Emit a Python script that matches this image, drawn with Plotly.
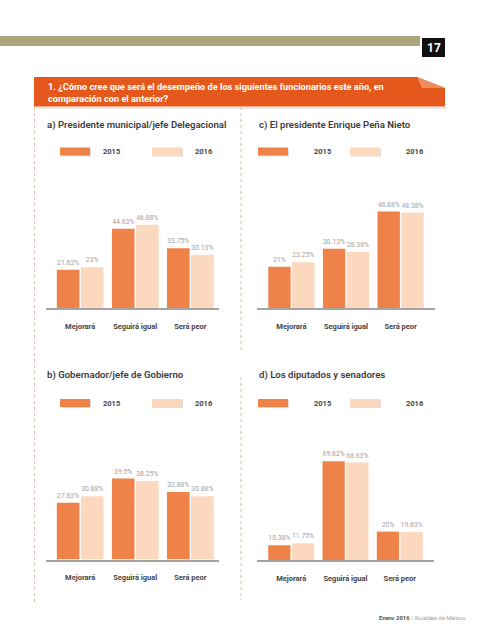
import plotly.graph_objects as go

W, H = 492, 640

categories = ["Mejorará", "Seguirá igual", "Será peor"]
years = ["2015", "2016"]

a_2015 = [21.63, 44.63, 33.75]
a_2016 = [23, 46.88, 30.13]
c_2015 = [21, 30.13, 48.88]
c_2016 = [23.25, 28.38, 48.38]
b_2015 = [27.63, 39.5, 32.88]
b_2016 = [30.88, 38.25, 30.88]
d_2015 = [10.38, 69.63, 20]
d_2016 = [11.75, 68.63, 19.63]

panel_titles = [
    "a) Presidente municipal/jefe Delegacional",
    "c) El presidente Enrique Peña Nieto",
    "b) Gobernador/jefe de Gobierno",
    "d) Los diputados y senadores",
]
question = ("1. ¿Cómo cree que será el desempeño de los siguientes funcionarios este año, en"
            "<br>comparación con el anterior?")
page_number = "17"
footer_bold = "Enero 2016"
footer_rest = " | Alcaldes de México"

C15 = "#ee8248"
C16 = "#fcd8bf"
TXT = "#444444"
VAL = "#a2a2a2"
FONT = "Roboto"


def px(x):
    return x / W


def py(y):
    return 1 - y / H


fig = go.Figure()

# panel geometry: (values 2015, values 2016, x0, x1, ybottom, pxPerUnit, xrange)
panels = [
    (a_2015, a_2016, 46, 219, 308.3, 1.78, [-0.62, 2.52]),
    (c_2015, c_2016, 257, 435, 308.3, 1.98, [-0.63, 2.63]),
    (b_2015, b_2016, 46, 219, 559.5, 2.05, [-0.62, 2.52]),
    (d_2015, d_2016, 257, 434, 560.0, 1.42, [-0.63, 2.63]),
]
PH = 108
for i, (v15, v16, x0, x1, yb, scale, xr) in enumerate(panels):
    n = i + 1
    xa = "x" if n == 1 else f"x{n}"
    ya = "y" if n == 1 else f"y{n}"
    for vals, col, yr in ((v15, C15, years[0]), (v16, C16, years[1])):
        fig.add_trace(go.Bar(
            x=categories, y=vals, name=yr, xaxis=xa, yaxis=ya,
            marker=dict(color=col, line=dict(width=0)),
            text=[f"{v:g}%" for v in vals], textposition="outside",
            textfont=dict(size=6.8, color=VAL, family=FONT),
            constraintext="none", cliponaxis=False, showlegend=False,
            hoverinfo="skip",
        ))
    sfx = "" if n == 1 else str(n)
    fig.layout["xaxis" + sfx] = dict(
        domain=[px(x0), px(x1)], range=xr, anchor=ya, showline=True,
        linecolor="#a3a3a3", linewidth=1.5, showgrid=False, zeroline=False,
        ticks="", ticklabelstandoff=10,
        tickfont=dict(size=7.5, color=TXT, family=FONT, weight="bold"),
        fixedrange=True,
    )
    fig.layout["yaxis" + sfx] = dict(
        domain=[py(yb), py(yb - PH)], range=[0, PH / scale], anchor=xa,
        visible=False, showgrid=False, zeroline=False, fixedrange=True,
    )

shapes = []
ann = []

# header band and page number
shapes.append(dict(type="rect", xref="paper", yref="paper", x0=px(0), x1=px(420),
                   y0=py(46), y1=py(36), fillcolor="#aca67f", line=dict(width=0)))
shapes.append(dict(type="rect", xref="paper", yref="paper", x0=px(422), x1=px(445),
                   y0=py(57), y1=py(38), fillcolor="#111111", line=dict(width=0)))
ann.append(dict(text=f"<b>{page_number}</b>", x=px(433.5), y=py(47.5), xref="paper", yref="paper",
                showarrow=False, font=dict(size=12, color="white", family=FONT),
                xanchor="center", yanchor="middle"))

# question box with folded corner
shapes.append(dict(type="rect", xref="paper", yref="paper", x0=px(36), x1=px(447),
                   y0=py(109), y1=py(107), fillcolor="#e9e9e9", line=dict(width=0)))
path = (f"M {px(34)} {py(77)} L {px(417)} {py(77)} L {px(445)} {py(88)} "
        f"L {px(445)} {py(106.5)} L {px(34)} {py(106.5)} Z")
shapes.append(dict(type="path", xref="paper", yref="paper", path=path,
                   fillcolor="#e5581b", line=dict(width=0)))
fold = f"M {px(417)} {py(77)} L {px(445)} {py(88)} L {px(422)} {py(88)} Z"
shapes.append(dict(type="path", xref="paper", yref="paper", path=fold,
                   fillcolor="#f08b5e", line=dict(width=0)))
ann.append(dict(text=f"<b>{question}</b>", x=px(46), y=py(92.5), xref="paper", yref="paper",
                showarrow=False, align="left", xanchor="left", yanchor="middle",
                font=dict(size=9.2, color="white", family=FONT)))

# dotted separators
dot = dict(color="#f0b49b", width=1, dash="dot")
shapes.append(dict(type="line", xref="paper", yref="paper", x0=px(34.5), x1=px(34.5),
                   y0=py(107), y1=py(603), line=dot))
shapes.append(dict(type="line", xref="paper", yref="paper", x0=px(241), x1=px(241),
                   y0=py(107), y1=py(350), line=dot))
shapes.append(dict(type="line", xref="paper", yref="paper", x0=px(241), x1=px(241),
                   y0=py(377), y1=py(600), line=dot))

# panel titles
title_pos = [(45, 125), (257, 125), (45, 375), (257, 375)]
for t, (tx, ty) in zip(panel_titles, title_pos):
    ann.append(dict(text=t, x=px(tx), y=py(ty), xref="paper", yref="paper",
                    showarrow=False, xanchor="left", yanchor="middle",
                    font=dict(size=9.6, color="#3c3c3c", family=FONT, weight=600)))

# per-panel legends: (rect x, y center, text offset)
leg_pos = [(60, 151.5, 41), (258, 151.5, 54), (60, 403, 41), (258, 403, 54)]
for lx, ly, toff in leg_pos:
    for k, (col, yr) in enumerate(((C15, years[0]), (C16, years[1]))):
        rx = lx + k * 92
        shapes.append(dict(type="rect", xref="paper", yref="paper", x0=px(rx + 1), x1=px(rx + 31),
                           y0=py(ly + 5), y1=py(ly - 3), fillcolor="#dddddd", line=dict(width=0)))
        shapes.append(dict(type="rect", xref="paper", yref="paper", x0=px(rx), x1=px(rx + 30),
                           y0=py(ly + 4), y1=py(ly - 4), fillcolor=col, line=dict(width=0)))
        ann.append(dict(text=yr, x=px(rx + toff), y=py(ly), xref="paper", yref="paper",
                        showarrow=False, xanchor="left", yanchor="middle",
                        font=dict(size=7.5, color=TXT, family=FONT, weight="bold")))

# footer
ann.append(dict(text=f"<b>{footer_bold}</b><span style='color:#a0a0a0'>{footer_rest}</span>",
                x=px(377), y=py(617), xref="paper", yref="paper", showarrow=False,
                xanchor="left", yanchor="middle",
                font=dict(size=6, color="#555555", family=FONT)))

fig.update_layout(
    width=W, height=H, margin=dict(l=0, r=0, t=0, b=0),
    paper_bgcolor="white", plot_bgcolor="rgba(0,0,0,0)",
    barmode="group", bargap=0.127, bargroupgap=0.06,
    shapes=shapes, annotations=ann, showlegend=False,
    font=dict(family=FONT),
)

fig.write_html("out.html", config={"displayModeBar": False},
               post_script="document.body.style.margin='0';document.body.style.overflow='hidden';")
